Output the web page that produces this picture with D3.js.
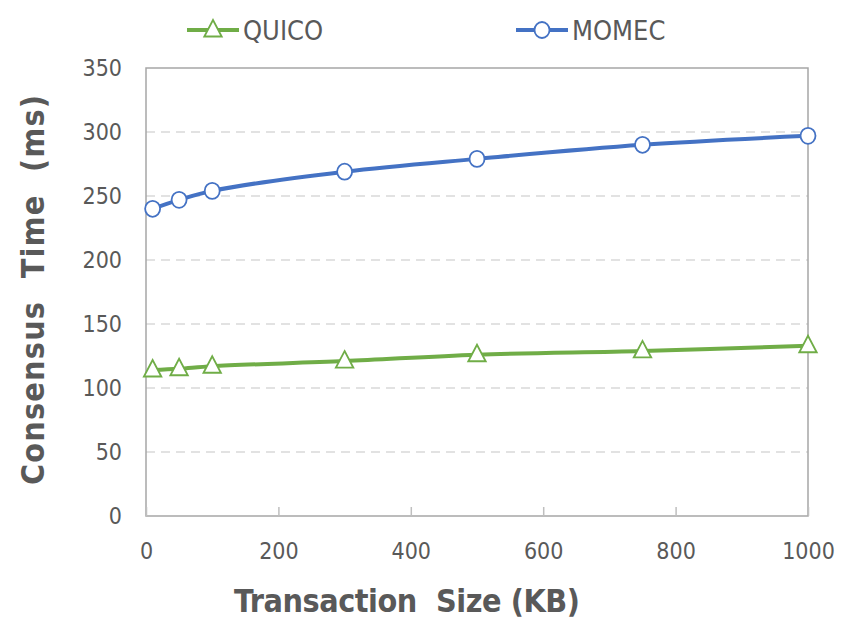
<!DOCTYPE html>
<html lang="en">
<head>
<meta charset="UTF-8">
<title>Consensus time</title>
<script src="https://d3js.org/d3.v7.min.js"></script>
<style>
  body { margin: 0; background: #fff; }
  text { font-family: "Liberation Sans Narrow", "DejaVu Sans Condensed", "Open Sans", sans-serif; fill: #595959; }
</style>
</head>
<body>
<script>
var sizes = [10, 50, 100, 300, 500, 750, 1000];
var quico = [114, 115, 117, 121, 126, 129, 133];
var momec = [240, 247, 254, 269, 279, 290, 297];
var xTicks = [0, 200, 400, 600, 800, 1000];
var yTicks = [0, 50, 100, 150, 200, 250, 300, 350];

var W = 853, H = 628;
var m = {left: 146, right: 45, top: 68, bottom: 112};

var svg = d3.select("body").append("svg")
    .attr("width", W)
    .attr("height", H);

var x = d3.scaleLinear().domain([0, 1000]).range([m.left, W - m.right]);
var y = d3.scaleLinear().domain([0, 350]).range([H - m.bottom, m.top]);

// gridlines
svg.append("g").selectAll("line")
    .data(yTicks.filter(function(d){ return d > 0 && d < 350; }))
    .enter().append("line")
    .attr("x1", x(0)).attr("x2", x(1000))
    .attr("y1", function(d){ return y(d); })
    .attr("y2", function(d){ return y(d); })
    .style("stroke", "#d9d9d9")
    .style("stroke-width", 1.5)
    .style("stroke-dasharray", "9,6");

// plot border
svg.append("rect")
    .attr("x", x(0)).attr("y", y(350))
    .attr("width", x(1000) - x(0))
    .attr("height", y(0) - y(350))
    .style("fill", "none")
    .style("stroke", "#a6a6a6")
    .style("stroke-width", 1.5);

// x axis ticks (inside) and labels
var xAxis = svg.append("g")
    .attr("transform", "translate(0," + y(0) + ")")
    .call(d3.axisBottom(x).tickValues(xTicks).tickSize(-9).tickPadding(27).tickFormat(d3.format("d")));
xAxis.select(".domain").remove();
xAxis.selectAll("line").style("stroke", "#bfbfbf").style("stroke-width", 1.5);
xAxis.selectAll("text").style("font-size", "23px").style("fill", "#595959")
    .style("font-family", "'Liberation Sans Narrow', 'DejaVu Sans Condensed', sans-serif");

// y axis labels
var yAxis = svg.append("g")
    .attr("transform", "translate(" + x(0) + ",0)")
    .call(d3.axisLeft(y).tickValues(yTicks).tickSize(0).tickPadding(24).tickFormat(d3.format("d")));
yAxis.select(".domain").remove();
yAxis.selectAll("text").style("font-size", "23px").style("fill", "#595959")
    .style("font-family", "'Liberation Sans Narrow', 'DejaVu Sans Condensed', sans-serif");

// axis titles
svg.append("text")
    .attr("x", 407).attr("y", 612)
    .attr("text-anchor", "middle")
    .attr("textLength", 346).attr("lengthAdjust", "spacing")
    .style("white-space", "pre")
    .style("font-size", "32px").style("font-weight", "bold")
    .text("Transaction  Size (KB)");

svg.append("text")
    .attr("transform", "translate(44,290) rotate(-90)")
    .attr("text-anchor", "middle")
    .attr("textLength", 390).attr("lengthAdjust", "spacing")
    .style("white-space", "pre")
    .style("font-size", "32px").style("font-weight", "bold")
    .text("Consensus  Time  (ms)");

var line = d3.line()
    .x(function(d){ return x(d[0]); })
    .y(function(d){ return y(d[1]); })
    .curve(d3.curveCatmullRom.alpha(0.5));

var series = [
    {name: "QUICO", values: quico, color: "#70ad47", marker: "tri"},
    {name: "MOMEC", values: momec, color: "#4472c4", marker: "circle"}
];

var tri = d3.symbol().type(d3.symbolTriangle).size(130);

function drawMarker(g, s, cx, cy) {
    if (s.marker === "tri") {
        g.append("path")
            .attr("d", tri())
            .attr("transform", "translate(" + cx + "," + (cy + 1) + ") scale(1,1.1)")
            .style("fill", "#fff")
            .style("stroke", s.color)
            .style("stroke-width", 1.8);
    } else {
        g.append("ellipse")
            .attr("cx", cx).attr("cy", cy).attr("rx", 7.5).attr("ry", 8)
            .style("fill", "#fff")
            .style("stroke", s.color)
            .style("stroke-width", 1.8);
    }
}

series.forEach(function(s) {
    var pts = sizes.map(function(v, i){ return [v, s.values[i]]; });
    svg.append("path")
        .datum(pts)
        .attr("d", line)
        .style("fill", "none")
        .style("stroke", s.color)
        .style("stroke-width", 4);
    var g = svg.append("g");
    pts.forEach(function(p){ drawMarker(g, s, x(p[0]), y(p[1])); });
});

// legend
var legendPos = [187, 516];
series.forEach(function(s, i) {
    var lx = legendPos[i], ly = 30;
    var g = svg.append("g");
    g.append("line")
        .attr("x1", lx).attr("x2", lx + 52)
        .attr("y1", ly).attr("y2", ly)
        .style("stroke", s.color).style("stroke-width", 4);
    drawMarker(g, s, lx + 26, ly);
    g.append("text")
        .attr("x", lx + 56).attr("y", ly + 10)
        .style("font-size", "27px")
        .text(s.name);
});
</script>
</body>
</html>
